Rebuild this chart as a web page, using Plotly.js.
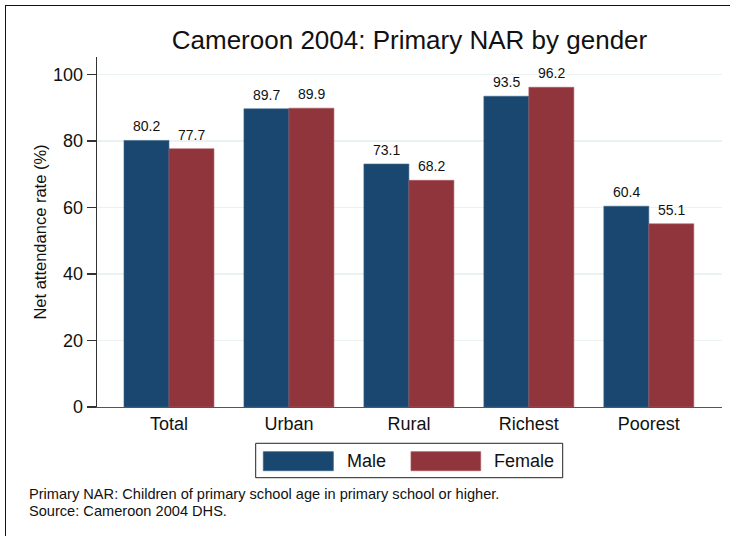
<!DOCTYPE html>
<html>
<head>
<meta charset="utf-8">
<script src="https://cdn.plot.ly/plotly-3.0.1.min.js"></script>
<style>
  html, body { margin: 0; padding: 0; background: #fff; }
  #wrap { position: relative; width: 730px; height: 536px; overflow: hidden; }
  #chart { position: absolute; left: 0; top: 0; width: 730px; height: 536px; }
  #frame { position: absolute; left: 5px; top: 5px; right: -2px; bottom: -2px;
           border-top: 1px solid #111; border-left: 1px solid #111; pointer-events: none; }
</style>
</head>
<body>
<div id="wrap">
  <div id="chart"></div>
  <div id="frame"></div>
</div>
<script>
// ---- data ----
var categories = ["Total", "Urban", "Rural", "Richest", "Poorest"];
var maleName = "Male";
var femaleName = "Female";
var maleValues = [80.2, 89.7, 73.1, 93.5, 60.4];
var femaleValues = [77.7, 89.9, 68.2, 96.2, 55.1];
var yTickValues = [0, 20, 40, 60, 80, 100];
var chartTitle = "Cameroon 2004: Primary NAR by gender";
var yTitle = "Net attendance rate (%)";
var footnoteLines = [
  "Primary NAR: Children of primary school age in primary school or higher.",
  "Source: Cameroon 2004 DHS."
];

// ---- styles ----
var maleColor = "#1a476f";
var femaleColor = "#90353b";
var font = "Liberation Sans, Arial, Helvetica, sans-serif";
var barOffset = 0.1875;

var traces = [
  { type: "bar", name: maleName, x: categories, y: maleValues,
    marker: { color: maleColor, line: { color: "#3d6488", width: 0.6 } }, hoverinfo: "none" },
  { type: "bar", name: femaleName, x: categories, y: femaleValues,
    marker: { color: femaleColor, line: { color: "#a85a5f", width: 0.6 } }, hoverinfo: "none" }
];

var annotations = [];
categories.forEach(function (c, i) {
  annotations.push({ x: i - barOffset, y: maleValues[i], xref: "x", yref: "y",
    text: maleValues[i].toFixed(1), showarrow: false, yanchor: "bottom", yshift: 4,
    font: { family: font, size: 14, color: "#111" } });
  annotations.push({ x: i + barOffset, y: femaleValues[i], xref: "x", yref: "y",
    text: femaleValues[i].toFixed(1), showarrow: false, yanchor: "bottom", yshift: 4,
    font: { family: font, size: 14, color: "#111" } });
});

// legend (drawn manually to match large swatches)
var shapes = [
  { type: "rect", xref: "paper", yref: "paper", x0: 0.2539, x1: 0.7451, y0: -0.1037, y1: -0.2020,
    line: { color: "#222", width: 1 }, fillcolor: "rgba(0,0,0,0)" },
  { type: "rect", xref: "paper", yref: "paper", x0: 0.2661, x1: 0.3781, y0: -0.1277, y1: -0.1820,
    line: { color: "#3d6488", width: 0.8 }, fillcolor: maleColor },
  { type: "rect", xref: "paper", yref: "paper", x0: 0.5024, x1: 0.6139, y0: -0.1277, y1: -0.1820,
    line: { color: "#a85a5f", width: 0.8 }, fillcolor: femaleColor }
];
annotations.push({ xref: "paper", yref: "paper", x: 0.3968, y: -0.1550, xanchor: "left", yanchor: "middle",
  text: maleName, showarrow: false, font: { family: font, size: 18, color: "#111" } });
annotations.push({ xref: "paper", yref: "paper", x: 0.6325, y: -0.1550, xanchor: "left", yanchor: "middle",
  text: femaleName, showarrow: false, font: { family: font, size: 18, color: "#111" } });

// footnote (single multi-line text)
annotations.push({ xref: "paper", yref: "paper", x: -0.1115, y: -0.2214, xanchor: "left", yanchor: "top",
  align: "left", text: footnoteLines.join("<br>"), showarrow: false, name: "footnote",
  font: { family: font, size: 14.6, color: "#111" } });

var layout = {
  width: 730, height: 536,
  margin: { l: 97, r: 8, t: 57, b: 129, pad: 0 },
  paper_bgcolor: "#ffffff", plot_bgcolor: "#ffffff",
  showlegend: false,
  barmode: "group", bargap: 0.25, bargroupgap: 0,
  font: { family: font, color: "#111" },
  title: { text: chartTitle, font: { family: font, size: 26, color: "#111" },
    xref: "paper", x: 0.5, xanchor: "center", yref: "container", y: 0.926, yanchor: "middle" },
  xaxis: {
    type: "category", range: [-0.60, 4.61], showgrid: false, zeroline: false,
    showline: true, linecolor: "#555", linewidth: 1.3, ticks: "", ticklen: 0,
    tickfont: { family: font, size: 18, color: "#111" }, fixedrange: true
  },
  yaxis: {
    range: [0, 105.3], tickvals: yTickValues, showgrid: true, gridcolor: "#eaf2f3", gridwidth: 1.5,
    zeroline: false, showline: true, linecolor: "#333", linewidth: 1.3,
    ticks: "outside", ticklen: 9, tickwidth: 1.3, tickcolor: "#333",
    tickfont: { family: font, size: 18, color: "#111" },
    title: { text: yTitle, font: { family: font, size: 16.5, color: "#111" }, standoff: 2 },
    automargin: false, fixedrange: true
  },
  annotations: annotations,
  shapes: shapes
};

Plotly.newPlot("chart", traces, layout, { staticPlot: true, displayModeBar: false }).then(function (gd) {
  // set footnote line spacing close to the reference while keeping lines apart
  var texts = gd.querySelectorAll(".annotation-text");
  texts.forEach(function (t) {
    var lines = t.querySelectorAll("tspan.line");
    if (lines.length > 1) {
      for (var k = 1; k < lines.length; k++) lines[k].setAttribute("dy", "1.18em");
    }
  });
});
</script>
</body>
</html>
